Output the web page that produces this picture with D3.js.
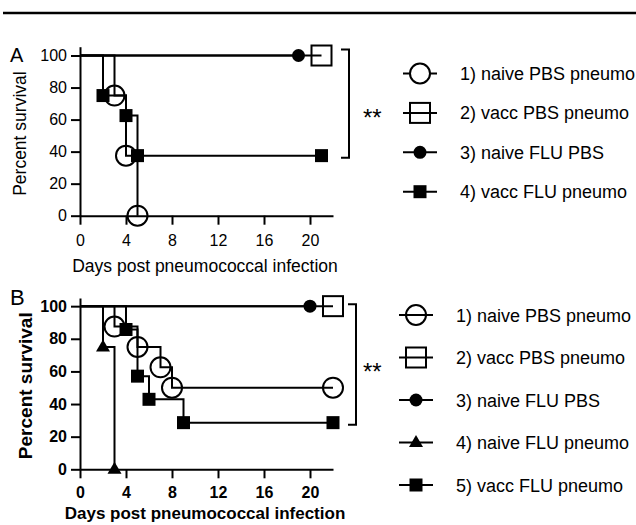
<!DOCTYPE html>
<html>
<head>
<meta charset="utf-8">
<script src="https://cdn.jsdelivr.net/npm/d3@7"></script>
<style>
  body { margin: 0; background: #fff; }
  svg { display: block; font-family: "Liberation Sans", Arial, sans-serif; }
</style>
</head>
<body>
<svg></svg>
<script>
const WIDTH = 636;
const HEIGHT = 525;

const DAY_TICKS = [0, 4, 8, 12, 16, 20];
const PCT_TICKS = [0, 20, 40, 60, 80, 100];
const X_TITLE = "Days post pneumococcal infection";
const Y_TITLE = "Percent survival";

// panel A: Kaplan-Meier steps (day, percent)
const groupsA = ["naive PBS pneumo", "vacc PBS pneumo", "naive FLU PBS", "vacc FLU pneumo"];
const daysA = [[0, 3, 4, 5], [0, 21], [0, 19], [0, 2, 4, 5, 21]];
const survA = [[100, 75, 37.5, 0], [100, 100], [100, 100], [100, 75, 62.5, 37.5, 37.5]];

// panel B
const groupsB = ["naive PBS pneumo", "vacc PBS pneumo", "naive FLU PBS", "naive FLU pneumo", "vacc FLU pneumo"];
const daysB = [[0, 3, 5, 7, 8, 22], [0, 22], [0, 20], [0, 2, 3], [0, 4, 5, 6, 9, 22]];
const survB = [[100, 87.5, 75, 62.5, 50, 50], [100, 100], [100, 100], [100, 75, 0], [100, 85.7, 57.1, 42.9, 28.6, 28.6]];

const SHAPES = {
  "naive PBS pneumo": "openCircle",
  "vacc PBS pneumo": "openSquare",
  "naive FLU PBS": "dot",
  "naive FLU pneumo": "triangle",
  "vacc FLU pneumo": "square"
};

const $svg = d3.select("svg").attr("width", WIDTH).attr("height", HEIGHT);

// rule across the top
$svg.append("line")
  .attr("x1", 3).attr("x2", WIDTH).attr("y1", 13).attr("y2", 13)
  .attr("stroke", "#000").attr("stroke-width", 2.5);

function drawMarker(g, shape, cx, cy, fill) {
  if (shape === "openCircle") {
    g.append("circle").attr("cx", cx).attr("cy", cy).attr("r", 10)
      .attr("fill", fill || "none").attr("stroke", "#000").attr("stroke-width", 2);
  } else if (shape === "openSquare") {
    g.append("rect").attr("x", cx - 10).attr("y", cy - 10).attr("width", 20).attr("height", 20)
      .attr("fill", "none").attr("stroke", "#000").attr("stroke-width", 2);
  } else if (shape === "dot") {
    g.append("circle").attr("cx", cx).attr("cy", cy).attr("r", 6.5).attr("fill", "#000");
  } else if (shape === "square") {
    g.append("rect").attr("x", cx - 6.5).attr("y", cy - 6.5).attr("width", 13).attr("height", 13)
      .attr("fill", "#000");
  } else if (shape === "triangle") {
    g.append("path")
      .attr("d", `M${cx},${cy - 7.5}L${cx + 7},${cy + 4.5}L${cx - 7},${cy + 4.5}Z`)
      .attr("fill", "#000");
  }
}

function drawPanel(p) {
  const g = $svg.append("g");
  const x = d3.scaleLinear().domain([0, 22]).range([80, 333]);
  const y = d3.scaleLinear().domain([0, p.yTop]).range([p.yZero, p.yTopPx]);
  const weight = p.bold ? "bold" : "normal";

  const xAxis = d3.axisBottom(x).tickValues(DAY_TICKS).tickSize(9).tickSizeOuter(0).tickPadding(p.xPad);
  const yAxis = d3.axisLeft(y).tickValues(PCT_TICKS).tickSize(9).tickSizeOuter(0).tickPadding(4);

  [
    g.append("g").attr("transform", `translate(0,${y(0)})`).call(xAxis),
    g.append("g").attr("transform", `translate(${x(0)},0)`).call(yAxis)
  ].forEach(a => {
    a.attr("font-family", null).attr("font-size", 16).attr("font-weight", weight);
    a.selectAll("path, line").attr("stroke", "#000").attr("stroke-width", 2);
    a.selectAll("text").attr("fill", "#000");
  });

  // survival curves
  const line = d3.line().x(d => x(d[0])).y(d => y(d[1])).curve(d3.curveStepAfter);
  p.groups.forEach((name, i) => {
    const pts = p.days[i].map((d, j) => [d, p.surv[i][j]]);
    g.append("path").attr("d", line(pts))
      .attr("fill", "none").attr("stroke", "#000").attr("stroke-width", 2);
  });
  p.groups.forEach((name, i) => {
    p.days[i].forEach((d, j) => {
      if (j > 0) drawMarker(g, SHAPES[name], x(d), y(p.surv[i][j]));
    });
  });

  // significance bracket
  const bx = p.bracketX;
  const top = y(100) - p.bracketUp;
  const bottom = y(p.bracketLow) + 2;
  g.append("path")
    .attr("d", `M${bx - 8},${top}H${bx}V${bottom}H${bx - 8}`)
    .attr("fill", "none").attr("stroke", "#000").attr("stroke-width", 2);

  // legend
  p.groups.forEach((name, i) => {
    const cy = p.legendY + i * p.legendStep;
    g.append("line").attr("x1", p.legendX - 17).attr("x2", p.legendX + 17)
      .attr("y1", cy).attr("y2", cy).attr("stroke", "#000").attr("stroke-width", 2);
    drawMarker(g, SHAPES[name], p.legendX, cy, p.bold ? null : "#fff");
    g.append("text").attr("x", p.legendX + 40).attr("y", cy + 6.5)
      .attr("font-size", 18).text(`${i + 1}) ${name}`);
  });
  g.append("text").attr("x", 363).attr("y", p.legendY + p.legendStep + p.starDy)
    .attr("font-size", 24).text("**");

  // titles
  g.append("text").attr("x", 205).attr("y", p.xTitleY)
    .attr("text-anchor", "middle").attr("font-size", p.xTitleSize).attr("font-weight", weight)
    .text(X_TITLE);
  g.append("text")
    .attr("transform", `translate(${p.yTitleX},${(y(0) + y(100)) / 2 - 2}) rotate(-90)`)
    .attr("text-anchor", "middle").attr("font-size", p.yTitleSize).attr("font-weight", weight)
    .text(Y_TITLE);
  g.append("text").attr("x", 10).attr("y", p.letterY)
    .attr("font-size", p.letterSize).text(p.letter);
}

drawPanel({
  letter: "A", letterY: 62, letterSize: 20,
  groups: groupsA, days: daysA, surv: survA,
  yZero: 215.7, yTop: 105.5, yTopPx: 46.7, xPad: 10,
  bracketX: 349, bracketUp: 6, bracketLow: 37.5,
  legendX: 420, legendY: 73.5, legendStep: 39.4, starDy: 13,
  xTitleY: 272, xTitleSize: 17.5, yTitleX: 26, yTitleSize: 17.5,
  bold: false
});

drawPanel({
  letter: "B", letterY: 305, letterSize: 22,
  groups: groupsB, days: daysB, surv: survB,
  yZero: 469.3, yTop: 105, yTopPx: 298, xPad: 8.5,
  bracketX: 356, bracketUp: 2, bracketLow: 28.6,
  legendX: 416, legendY: 315, legendStep: 42.5, starDy: 22.5,
  xTitleY: 519, xTitleSize: 17, yTitleX: 32, yTitleSize: 19,
  bold: true
});
</script>
</body>
</html>
